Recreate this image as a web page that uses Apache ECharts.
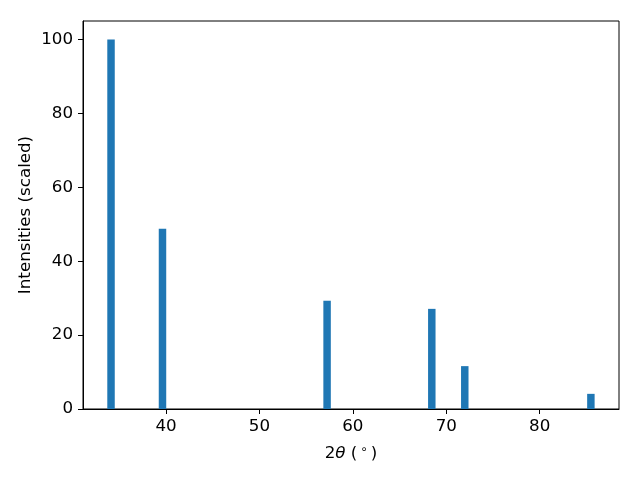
<!DOCTYPE html>
<html><head><meta charset="utf-8">
<script src="https://cdn.jsdelivr.net/npm/echarts@6/dist/echarts.min.js"></script>
<style>html,body{margin:0;padding:0;background:#fff}#c{width:640px;height:480px}</style>
</head><body><div id="c"></div>
<script>
const twoTheta = [34.11, 39.62, 57.24, 68.45, 71.98, 85.48];
const intensities = [100, 48.8, 29.3, 27.1, 11.6, 4.1];
const xTicks = [40, 50, 60, 70, 80];
const yTicks = [0, 20, 40, 60, 80, 100];
const barWidth = 0.8;

const chart = echarts.init(document.getElementById('c'), null, {renderer: 'canvas'});
const font = 'DejaVu Sans';
const fs = 16.7;
chart.setOption({
  animation: false,
  grid: {left: 83, right: 21, top: 21, bottom: 71, show: true, borderColor: '#000', borderWidth: 1, containLabel: false},
  xAxis: {
    type: 'value', min: 31.11, max: 88.49,
    axisLine: {show: true, onZero: false, lineStyle: {color: '#000', width: 1}},
    splitLine: {show: false},
    axisTick: {show: true, length: 5, lineStyle: {color: '#000'}, customValues: xTicks},
    axisLabel: {color: '#000', fontFamily: font, fontSize: fs, margin: 9, customValues: xTicks},
    name: '{n|2}{t|θ}{n| (}{s|∘}{n|)}',
    nameLocation: 'middle', nameGap: 35, nameMoveOverlap: false,
    nameTextStyle: {rich: {
      n: {fontFamily: font, fontSize: fs, color: '#000'},
      t: {fontFamily: font, fontSize: fs, fontStyle: 'italic', color: '#000'},
      s: {fontFamily: font, fontSize: 12, color: '#000', verticalAlign: 'top', padding: [0, 3, 8, 3]}
    }}
  },
  yAxis: {
    type: 'value', min: 0, max: 105,
    axisLine: {show: true, lineStyle: {color: '#000', width: 1}},
    splitLine: {show: false},
    axisTick: {show: true, length: 5, lineStyle: {color: '#000'}, customValues: yTicks},
    axisLabel: {color: '#000', fontFamily: font, fontSize: fs, margin: 10, customValues: yTicks},
    name: 'Intensities (scaled)', nameLocation: 'middle', nameGap: 49, nameMoveOverlap: false,
    nameTextStyle: {fontFamily: font, fontSize: fs, color: '#000'}
  },
  series: [{
    type: 'custom',
    data: twoTheta.map((x, i) => [x, intensities[i]]),
    renderItem: function (params, api) {
      const x = api.value(0), y = api.value(1);
      const p0 = api.coord([x - barWidth / 2, y]);
      const p1 = api.coord([x + barWidth / 2, 0]);
      return {type: 'rect', shape: {x: p0[0], y: p0[1], width: p1[0] - p0[0], height: p1[1] - p0[1]},
        style: {fill: '#1f77b4'}};
    }
  }]
});
</script></body></html>
